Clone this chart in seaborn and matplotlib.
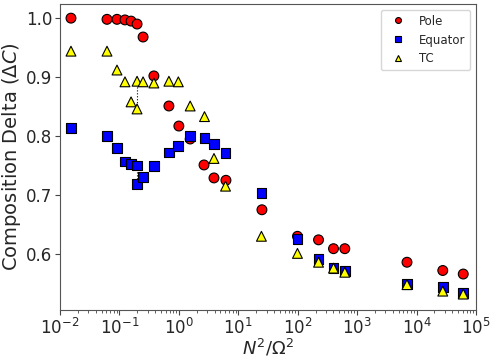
import pandas as pd
import matplotlib
matplotlib.use('Agg')
import matplotlib.pyplot as plt
import seaborn as sns

# Values
x_pole = [0.0153, 0.0618, 0.091, 0.124, 0.157, 0.198, 0.25, 0.38, 0.68, 1.0, 1.55, 2.65, 3.9, 6.2,
          25, 99, 224, 400, 620, 6900, 27600, 61000]
y_pole = [1.0, 0.998, 0.998, 0.997, 0.995, 0.99, 0.968, 0.902, 0.851, 0.817, 0.795, 0.751, 0.729, 0.725,
          0.675, 0.630, 0.624, 0.609, 0.609, 0.586, 0.572, 0.566]

x_eq = [0.0153, 0.0618, 0.091, 0.124, 0.157, 0.198, 0.198, 0.25, 0.38, 0.68, 0.98, 1.55, 2.7, 3.9, 6.1,
        24.5, 99, 224, 400, 620, 6900, 27600, 61000]
y_eq = [0.814, 0.800, 0.780, 0.757, 0.753, 0.750, 0.719, 0.731, 0.749, 0.772, 0.783, 0.800, 0.797, 0.786,
        0.771, 0.703, 0.626, 0.592, 0.576, 0.571, 0.549, 0.544, 0.534]

x_tc = [0.0153, 0.0618, 0.091, 0.124, 0.157, 0.198, 0.198, 0.25, 0.38, 0.68, 0.98, 1.55, 2.7, 3.9, 6.1,
        24.5, 99, 224, 400, 620, 6900, 27600, 61000]
y_tc = [0.944, 0.944, 0.912, 0.892, 0.858, 0.893, 0.846, 0.892, 0.890, 0.893, 0.892, 0.851, 0.833, 0.762,
        0.715, 0.630, 0.601, 0.586, 0.576, 0.569, 0.548, 0.537, 0.532]

# dotted connectors at the duplicated x value
x_link = 0.198
tc_link = [0.893, 0.846]
eq_link = [0.750, 0.719]

df = pd.concat([
    pd.DataFrame({'x': x_pole, 'y': y_pole, 'loc': 'Pole'}),
    pd.DataFrame({'x': x_eq, 'y': y_eq, 'loc': 'Equator'}),
    pd.DataFrame({'x': x_tc, 'y': y_tc, 'loc': 'TC'}),
])

sns.set_style('ticks')
fig = plt.figure(figsize=(4.92, 3.6), dpi=100)
ax = fig.add_axes([60 / 492, 50 / 360, 416 / 492, 306 / 360])

ax.plot([x_link, x_link], tc_link, color='black', linestyle=':', linewidth=0.8, zorder=1)
ax.plot([x_link, x_link], eq_link, color='black', linestyle=':', linewidth=0.8, zorder=1)

sns.scatterplot(data=df, x='x', y='y', hue='loc', style='loc',
                palette={'Pole': 'red', 'Equator': 'blue', 'TC': 'yellow'},
                markers={'Pole': 'o', 'Equator': 's', 'TC': '^'},
                s=50, edgecolor='black', linewidth=0.8, ax=ax, zorder=2)

ax.set_xscale('log')
ax.set_xlim(1e-2, 1e5)
ax.set_ylim(0.505, 1.024)
ax.set_yticks([0.6, 0.7, 0.8, 0.9, 1.0])
ax.set_xticks([1e-2, 1e-1, 1e0, 1e1, 1e2, 1e3, 1e4, 1e5])
ax.tick_params(axis='both', which='major', labelsize=12, length=3.5, width=0.8, pad=2,
               color='#444444')
ax.tick_params(axis='x', which='minor', length=2, width=0.6, color='#444444')
ax.set_xlabel(r'$N^2/\Omega^2$', fontsize=13, labelpad=0)
ax.set_ylabel(r'Composition Delta ($\Delta C$)', fontsize=14, labelpad=2)
for sp in ax.spines.values():
    sp.set_color('#555555')

leg = ax.legend(loc='upper right', fontsize=8.5, title=None, markerscale=0.6,
                handletextpad=0.8, borderaxespad=0.5)

plt.savefig('out.png', dpi=100)
